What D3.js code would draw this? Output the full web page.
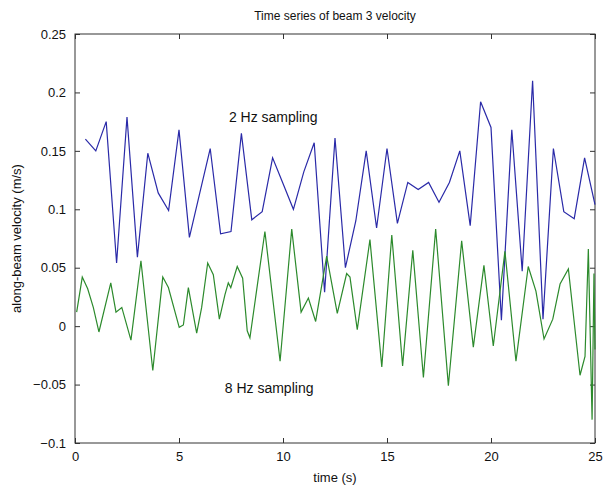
<!DOCTYPE html>
<html lang="en">
<head>
<meta charset="UTF-8" />
<title>Time series of beam 3 velocity</title>
<script src="https://cdn.jsdelivr.net/npm/d3@7"></script>
<style>
  body { margin: 0; background: #fff; }
  text { font-family: "Liberation Sans", Arial, sans-serif; fill: #111; }
  .axis path, .axis line { stroke: #333; }
</style>
</head>
<body>
<script>
// 2 Hz series (blue)
var blueTime = [0.5, 1, 1.5, 2, 2.5, 3, 3.5, 4, 4.5, 5, 5.5, 6, 6.5, 7, 7.5, 8, 8.5, 9, 9.5, 10,
                10.5, 11, 11.5, 12, 12.5, 13, 13.5, 14, 14.5, 15, 15.5, 16, 16.5, 17, 17.5, 18, 18.5, 19, 19.5, 20,
                20.5, 21, 21.5, 22, 22.5, 23, 23.5, 24, 24.5, 25];
var blueVel = [0.160, 0.150, 0.175, 0.054, 0.179, 0.059, 0.148, 0.114, 0.099, 0.168,
               0.076, 0.114, 0.152, 0.079, 0.081, 0.165, 0.091, 0.098, 0.144, 0.122,
               0.100, 0.132, 0.157, 0.029, 0.161, 0.050, 0.090, 0.150, 0.084, 0.152,
               0.088, 0.123, 0.117, 0.123, 0.106, 0.123, 0.150, 0.086, 0.192, 0.170,
               0.005, 0.168, 0.047, 0.210, 0.006, 0.152, 0.098, 0.092, 0.144, 0.104];

// 8 Hz series (green), vertices
var greenTime = [0.08, 0.35, 0.61, 0.88, 1.15, 1.72, 1.97, 2.25, 2.69, 3.17,
                 3.74, 4.22, 4.49, 5.01, 5.21, 5.45, 5.85, 6.09, 6.38, 6.65,
                 6.94, 7.21, 7.37, 7.49, 7.80, 8.06, 8.28, 8.41, 9.13, 9.86,
                 10.42, 10.87, 11.22, 11.57, 12.10, 12.61, 13.06, 13.22, 13.57, 14.18,
                 14.75, 15.23, 15.75, 16.24, 16.75, 17.34, 17.95, 18.59, 19.15, 19.66,
                 20.11, 20.67, 21.20, 21.79, 22.16, 22.55, 22.97, 23.32, 23.72, 24.28,
                 24.52, 24.68, 24.86, 24.95, 25.0];
var greenVel = [0.012, 0.042, 0.032, 0.016, -0.005, 0.037, 0.012, 0.016, -0.012, 0.056,
                -0.038, 0.042, 0.033, -0.001, 0.001, 0.033, -0.006, 0.016, 0.054, 0.044,
                0.006, 0.027, 0.037, 0.033, 0.051, 0.041, -0.004, -0.010, 0.081, -0.030,
                0.083, 0.012, 0.024, 0.004, 0.060, 0.011, 0.045, 0.042, -0.003, 0.074,
                -0.035, 0.078, -0.034, 0.065, -0.044, 0.083, -0.051, 0.073, -0.018, 0.052,
                -0.017, 0.064, -0.030, 0.051, 0.030, -0.011, 0.006, 0.036, 0.049, -0.042,
                -0.026, 0.066, -0.080, 0.045, -0.020];

var xTicks = [0, 5, 10, 15, 20, 25];
var yTicks = [-0.1, -0.05, 0, 0.05, 0.1, 0.15, 0.2, 0.25];

var w = 608, h = 489;
var margin = { top: 34, left: 75, right: 13, bottom: 46 };
var iw = w - margin.left - margin.right;
var ih = h - margin.top - margin.bottom;

var svg = d3.select("body").append("svg")
            .attr("width", w)
            .attr("height", h);

var g = svg.append("g")
           .attr("transform", "translate(" + margin.left + "," + margin.top + ")");

var xScale = d3.scaleLinear().domain([0, 25]).range([0, iw]);
var yScale = d3.scaleLinear().domain([-0.1, 0.25]).range([ih, 0]);

// inward ticks on all four sides, like matlab
var fmt = function(d) { return d3.format("")(+d.toFixed(2)); };

g.append("g").attr("class", "axis")
 .attr("transform", "translate(0," + ih + ")")
 .call(d3.axisBottom(xScale).tickValues(xTicks).tickSizeInner(-5).tickSizeOuter(0).tickPadding(9))
 .call(function(s) { s.selectAll("text").style("font-size", "13px"); });

g.append("g").attr("class", "axis")
 .call(d3.axisTop(xScale).tickValues(xTicks).tickSizeInner(-5).tickSizeOuter(0).tickFormat(""));

g.append("g").attr("class", "axis")
 .call(d3.axisLeft(yScale).tickValues(yTicks).tickSizeInner(-5).tickSizeOuter(0).tickPadding(9).tickFormat(fmt))
 .call(function(s) { s.selectAll("text").style("font-size", "13px"); });

g.append("g").attr("class", "axis")
 .attr("transform", "translate(" + iw + ",0)")
 .call(d3.axisRight(yScale).tickValues(yTicks).tickSizeInner(-5).tickSizeOuter(0).tickFormat(""));

g.selectAll(".axis .domain").remove();
g.append("rect")
 .attr("width", iw).attr("height", ih)
 .attr("fill", "none").attr("stroke", "#333").attr("stroke-width", 1);

var blue = blueTime.map(function(t, i) { return [t, blueVel[i]]; });
var green = greenTime.map(function(t, i) { return [t, greenVel[i]]; });

var line = d3.line()
             .x(function(d) { return xScale(d[0]); })
             .y(function(d) { return yScale(d[1]); });

g.append("path").datum(blue)
 .attr("d", line).attr("fill", "none")
 .attr("stroke", "#2a2aa8").attr("stroke-width", 1.2);

g.append("path").datum(green)
 .attr("d", line).attr("fill", "none")
 .attr("stroke", "#2c8a2c").attr("stroke-width", 1.2);

// labels
svg.append("text")
   .attr("x", margin.left + iw / 2).attr("y", 20)
   .attr("text-anchor", "middle").style("font-size", "12px")
   .text("Time series of beam 3 velocity");

svg.append("text")
   .attr("x", margin.left + iw / 2).attr("y", 482)
   .attr("text-anchor", "middle").style("font-size", "13px")
   .text("time (s)");

svg.append("text")
   .attr("transform", "translate(21," + (margin.top + ih / 2) + ") rotate(-90)")
   .attr("text-anchor", "middle").style("font-size", "13px")
   .text("along-beam velocity (m/s)");

g.append("text")
 .attr("x", xScale(7.4)).attr("y", yScale(0.175))
 .style("font-size", "14px")
 .text("2 Hz sampling");

g.append("text")
 .attr("x", xScale(7.2)).attr("y", yScale(-0.057))
 .style("font-size", "14px")
 .text("8 Hz sampling");
</script>
</body>
</html>
